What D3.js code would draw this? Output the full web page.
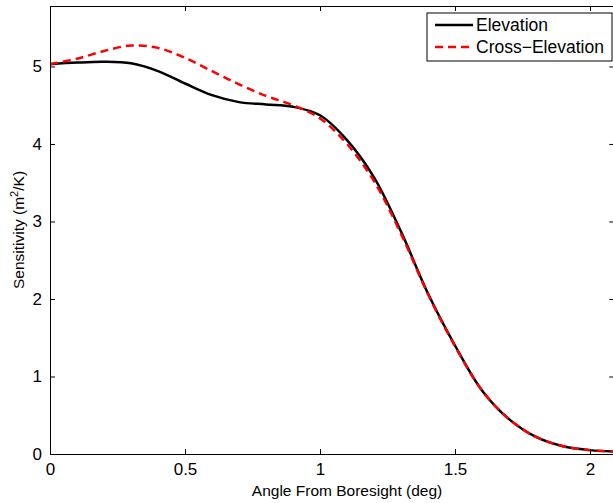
<!DOCTYPE html>
<html>
<head>
<meta charset="utf-8">
<script src="https://cdn.jsdelivr.net/npm/d3@7"></script>
<style>
  body { margin: 0; background: #fff; }
  text { font-family: "Liberation Sans", Arial, sans-serif; }
</style>
</head>
<body>
<div class="chart"></div>
<script>
// angle from boresight (deg)
let angles = [0, 0.1, 0.2, 0.3, 0.4, 0.5, 0.6, 0.7, 0.8, 0.9, 1.0, 1.1, 1.2, 1.3, 1.4, 1.5, 1.6, 1.7, 1.8, 1.9, 2.0, 2.1];
let elevation = [5.03, 5.05, 5.06, 5.04, 4.94, 4.78, 4.63, 4.54, 4.51, 4.48, 4.37, 4.05, 3.57, 2.87, 2.07, 1.40, 0.82, 0.45, 0.22, 0.10, 0.05, 0.03];
let crossElevation = [5.03, 5.10, 5.20, 5.27, 5.24, 5.11, 4.94, 4.77, 4.62, 4.50, 4.33, 4.00, 3.52, 2.84, 2.06, 1.39, 0.82, 0.45, 0.22, 0.10, 0.05, 0.03];
let xTicks = [0, 0.5, 1, 1.5, 2];
let yTicks = [0, 1, 2, 3, 4, 5];
let seriesNames = ["Elevation", "Cross\u2212Elevation"];

let width = 613;
let height = 503;
let padLeft = 50, padTop = 6, padBottom = 454;

let svg = d3.select(".chart")
  .append("svg")
  .attr("width", width)
  .attr("height", height);

let x = d3.scaleLinear().domain([0, 2.09]).range([padLeft, padLeft + 2.09 * 270]);
let y = d3.scaleLinear().domain([0, 5.78]).range([padBottom, padTop]);
let padRight = x.range()[1];

let plot = svg.append("g");

let line = d3.line()
  .x(function(d) { return x(d[0]); })
  .y(function(d) { return y(d[1]); })
  .curve(d3.curveCatmullRom.alpha(0.5));

let blackData = angles.map(function(a, i) { return [a, elevation[i]]; });
let redData = angles.map(function(a, i) { return [a, crossElevation[i]]; });

svg.append("defs").append("clipPath").attr("id", "clip")
  .append("rect")
  .attr("x", padLeft).attr("y", padTop)
  .attr("width", padRight - padLeft).attr("height", padBottom - padTop);

plot.append("path")
  .attr("d", line(blackData))
  .attr("clip-path", "url(#clip)")
  .attr("fill", "none")
  .attr("stroke", "#000")
  .attr("stroke-width", 2.5);

plot.append("path")
  .attr("d", line(redData))
  .attr("clip-path", "url(#clip)")
  .attr("fill", "none")
  .attr("stroke", "#ff0000")
  .attr("stroke-width", 2.5)
  .attr("stroke-dasharray", "8,5");

// axes box with inward ticks on all sides
let fmt = function(d) { return String(d); };

svg.append("g")
  .attr("transform", "translate(0," + padBottom + ")")
  .call(d3.axisBottom(x).tickValues(xTicks).tickSizeInner(-5).tickSizeOuter(0).tickPadding(9).tickFormat(fmt))
  .call(function(g) {
    g.selectAll("text").attr("font-size", 17).attr("fill", "#000");
  });

svg.append("g")
  .attr("transform", "translate(0," + padTop + ")")
  .call(d3.axisTop(x).tickValues(xTicks).tickSizeInner(-5).tickSizeOuter(0).tickFormat(""));

svg.append("g")
  .attr("transform", "translate(" + padLeft + ",0)")
  .call(d3.axisLeft(y).tickValues(yTicks).tickSizeInner(-5).tickSizeOuter(0).tickPadding(8).tickFormat(fmt))
  .call(function(g) {
    g.selectAll("text").attr("font-size", 17).attr("fill", "#000");
  });

svg.append("g")
  .attr("transform", "translate(" + padRight + ",0)")
  .call(d3.axisRight(y).tickValues(yTicks).tickSizeInner(-5).tickSizeOuter(0).tickFormat(""));

svg.selectAll(".domain, .tick line").attr("stroke", "#000");

// axis labels
svg.append("text")
  .attr("x", 347)
  .attr("y", 496)
  .attr("text-anchor", "middle")
  .attr("font-size", 15.5)
  .text("Angle From Boresight (deg)");

let ylab = svg.append("text")
  .attr("transform", "translate(24," + ((padTop + padBottom) / 2) + ") rotate(-90)")
  .attr("text-anchor", "middle")
  .attr("font-size", 15.5);
ylab.append("tspan").text("Sensitivity (m");
ylab.append("tspan").attr("dy", -6).attr("font-size", 11).text("2");
ylab.append("tspan").attr("dy", 6).text("/K)");

// legend
let legend = svg.append("g");
legend.append("rect")
  .attr("x", 427).attr("y", 13)
  .attr("width", 185).attr("height", 48)
  .attr("fill", "#fff")
  .attr("stroke", "#000")
  .attr("stroke-width", 1);

let legendItems = legend.selectAll(".item")
  .data(seriesNames)
  .enter().append("g")
  .attr("class", "item")
  .attr("transform", function(d, i) { return "translate(0," + (25 + i * 22) + ")"; });

legendItems.append("line")
  .attr("x1", 435).attr("x2", 473)
  .attr("stroke", function(d, i) { return i === 0 ? "#000" : "#ff0000"; })
  .attr("stroke-width", 2.5)
  .attr("stroke-dasharray", function(d, i) { return i === 0 ? null : "8,5"; });

legendItems.append("text")
  .attr("x", 476)
  .attr("dy", "0.35em")
  .attr("font-size", 17.5)
  .text(String);
</script>
</body>
</html>
